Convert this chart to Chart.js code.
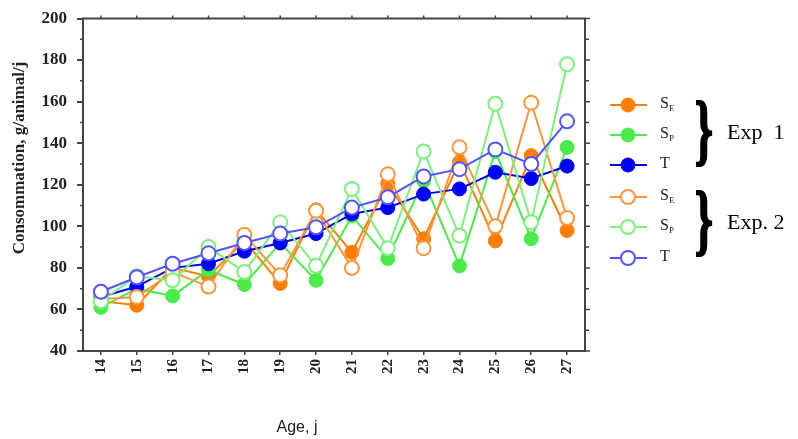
<!DOCTYPE html>
<html>
<head>
<meta charset="utf-8">
<script src="https://cdn.jsdelivr.net/npm/chart.js@4.4.0/dist/chart.umd.min.js"></script>
<style>
html, body { margin: 0; padding: 0; background: #fff; }
#wrap { width: 798px; height: 439px; }
</style>
</head>
<body>
<div id="wrap"><canvas id="c" width="798" height="439"></canvas></div>
<script>
// ages (days) on the x axis
var ages = ['14', '15', '16', '17', '18', '19', '20', '21', '22', '23', '24', '25', '26', '27'];

// Exp 1 (filled markers)
var exp1Se = [64, 62, 80, 76, 93, 72.5, 108, 87.5, 120.5, 94, 131, 93, 134, 98];
var exp1Sp = [61, 70, 66.5, 79, 72, 92, 74, 105, 84.5, 122, 81, 136, 94, 138];
var exp1T  = [66, 71, 80, 82, 88, 92, 96.5, 106, 109, 115.5, 118, 126, 123, 129];

// Exp 2 (open markers)
var exp2Se = [65, 66, 78, 71, 96, 76.5, 107.5, 80, 125, 89.5, 138, 100, 159.5, 104];
var exp2Sp = [64, 76, 74, 90, 78, 102, 81, 118, 89.5, 136, 95.5, 159, 102, 178];
var exp2T  = [68.5, 75.5, 82, 87, 92, 96.5, 99.5, 109, 114, 124, 127.5, 137, 130, 150.5];

var yMin = 40, yMax = 200;

var orange = 'rgb(255,125,0)', green = 'rgb(75,235,75)', blue = 'rgb(0,0,250)';
var orange2 = 'rgb(255,150,60)', green2 = 'rgb(125,240,125)', blue2 = 'rgb(85,85,255)';

function filled(label, data, col, order) {
	return { label: label, data: data, borderColor: col, backgroundColor: col,
		pointBackgroundColor: col, pointBorderColor: col, borderWidth: 2,
		pointRadius: 7, pointBorderWidth: 1, tension: 0, order: order };
}
function open(label, data, col, order) {
	return { label: label, data: data, borderColor: col, backgroundColor: '#fff',
		pointBackgroundColor: '#fff', pointBorderColor: col, borderWidth: 2,
		pointRadius: 7, pointBorderWidth: 2, tension: 0, order: order };
}

// lower order is drawn on top
var datasets = [
	filled('SE', exp1Se, orange, 6),
	filled('SP', exp1Sp, green, 5),
	filled('T', exp1T, blue, 4),
	open('SE', exp2Se, orange2, 3),
	open('SP', exp2Sp, green2, 2),
	open('T', exp2T, blue2, 1)
];

var legendY = [105, 135, 165, 197, 227, 258];
var legendSub = ['E', 'P', '', 'E', 'P', ''];

var extras = {
	id: 'extras',
	afterDraw: function(chart) {
		var ctx = chart.ctx, a = chart.chartArea, x = chart.scales.x, y = chart.scales.y;
		ctx.save();
		// frame: top and right edges
		ctx.strokeStyle = '#444';
		ctx.lineWidth = 2;
		ctx.beginPath();
		ctx.moveTo(a.left - 1, a.top);
		ctx.lineTo(a.right, a.top);
		ctx.lineTo(a.right, a.bottom + 1);
		ctx.stroke();
		ctx.lineWidth = 1.5;
		ctx.beginPath();
		for (var i = 0; i < x.ticks.length; i++) {
			var px = x.getPixelForTick(i);
			ctx.moveTo(px, a.top);
			ctx.lineTo(px, a.top - 3);
		}
		for (var j = 0; j < y.ticks.length; j++) {
			var t = y.ticks[j], py = y.getPixelForTick(j);
			ctx.moveTo(a.right, py);
			ctx.lineTo(a.right + (t.value % 20 === 0 ? 5 : 4), py);
			if (t.value % 20 !== 0) {
				ctx.moveTo(a.left, py);
				ctx.lineTo(a.left - 3, py);
			}
		}
		ctx.stroke();

		// axis titles
		ctx.fillStyle = '#222';
		ctx.textAlign = 'center';
		ctx.textBaseline = 'middle';
		ctx.font = '16px "Liberation Sans"';
		ctx.fillText('Age, j', 297, 428);
		ctx.save();
		ctx.translate(20, 158);
		ctx.rotate(-Math.PI / 2);
		ctx.font = 'bold 17px "Liberation Serif"';
		ctx.fillText('Consommation, g/animal/j', 0, 0);
		ctx.restore();

		// legend
		for (var k = 0; k < datasets.length; k++) {
			var d = datasets[k], ly = legendY[k];
			ctx.strokeStyle = d.borderColor;
			ctx.lineWidth = 2;
			ctx.beginPath();
			ctx.moveTo(610, ly);
			ctx.lineTo(647, ly);
			ctx.stroke();
			ctx.beginPath();
			ctx.arc(628, ly, 7, 0, Math.PI * 2);
			ctx.fillStyle = d.pointBackgroundColor;
			ctx.fill();
			ctx.lineWidth = d.pointBorderWidth;
			ctx.strokeStyle = d.pointBorderColor;
			ctx.stroke();
			ctx.fillStyle = '#222';
			ctx.textAlign = 'left';
			ctx.font = '16px "Liberation Serif"';
			ctx.fillText(d.label.charAt(0), 660, ly - 1);
			if (legendSub[k]) {
				ctx.font = '9px "Liberation Serif"';
				ctx.fillText(legendSub[k], 669, ly + 4);
			}
		}

		// braces and experiment labels
		ctx.fillStyle = '#000';
		ctx.strokeStyle = '#000';
		ctx.lineWidth = 1.5;
		ctx.textAlign = 'center';
		[[135, 'Exp  1'], [225, 'Exp. 2']].forEach(function(b) {
			ctx.save();
			ctx.translate(704, b[0]);
			ctx.scale(0.8, 1.35);
			ctx.font = 'bold 58px "Liberation Serif"';
			ctx.fillText('}', 0, 0);
			ctx.strokeText('}', 0, 0);
			ctx.restore();
			ctx.font = '22px "Liberation Serif"';
			ctx.textAlign = 'left';
			ctx.fillText(b[1], 727, b[0] - 2);
			ctx.textAlign = 'center';
		});
		ctx.restore();
	}
};

new Chart(document.getElementById('c'), {
	type: 'line',
	data: { labels: ages, datasets: datasets },
	plugins: [extras],
	options: {
		responsive: false,
		animation: false,
		devicePixelRatio: 1,
		layout: { padding: { top: 17, right: 213, left: 0, bottom: 0 } },
		plugins: { legend: { display: false }, tooltip: { enabled: false } },
		scales: {
			x: {
				type: 'category',
				offset: true,
				afterFit: function(s) { s.height = 88; },
				grid: { display: true, drawOnChartArea: false, tickLength: 4, color: '#444', lineWidth: 1.5 },
				border: { display: true, color: '#444', width: 2 },
				ticks: { minRotation: 90, maxRotation: 90, padding: 4, color: '#222',
					font: { family: '"Liberation Serif"', size: 15, weight: 'bold' } }
			},
			y: {
				min: yMin,
				max: yMax,
				afterFit: function(s) { s.width = 83; },
				grid: { drawOnChartArea: false, tickLength: 6, lineWidth: 2,
					tickColor: function(c) { return c.tick && c.tick.value % 20 === 0 ? '#444' : 'rgba(0,0,0,0)'; } },
				border: { display: true, color: '#444', width: 2 },
				ticks: { stepSize: 10, padding: 10, color: '#222',
					font: { family: '"Liberation Serif"', size: 17, weight: 'bold', lineHeight: 1 },
					callback: function(v) { return v % 20 === 0 ? v : ''; } }
			}
		}
	}
});
</script>
</body>
</html>
